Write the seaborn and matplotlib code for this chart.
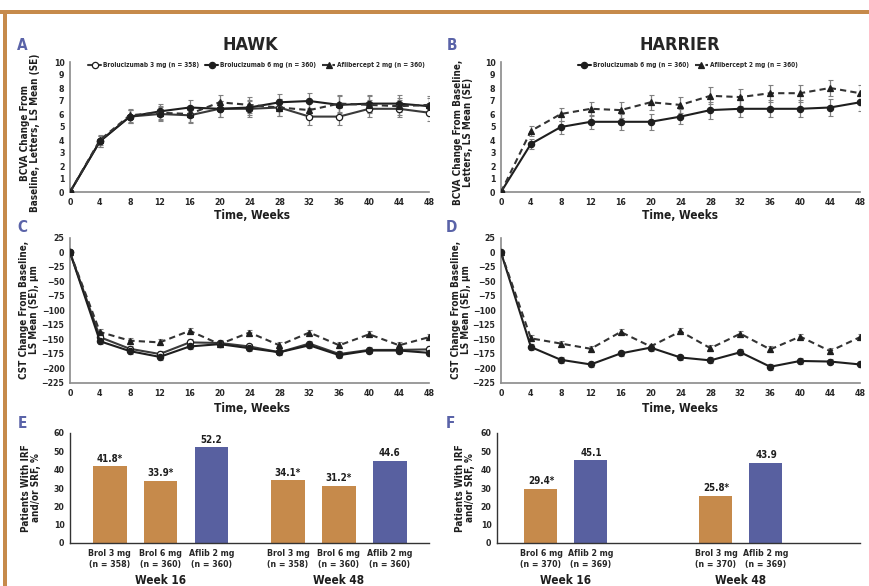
"""HAWK / HARRIER efficacy panels - BCVA, CST and fluid."""

import pandas as pd
import matplotlib
matplotlib.use('Agg')
import matplotlib.pyplot as plt
import seaborn as sns
from matplotlib.patches import Rectangle

sns.set_style("white")
# narrow bold type, closest thing to the original's condensed face
plt.rcParams['font.family'] = ['DejaVu Sans']
plt.rcParams['font.stretch'] = 'condensed'
plt.rcParams['font.weight'] = 'bold'

# ---- data -------------------------------------------------------------
weeks = [0, 4, 8, 12, 16, 20, 24, 28, 32, 36, 40, 44, 48]

# HAWK BCVA (letters)
hawk_bcva_brol3 = [0, 3.9, 5.8, 6.0, 5.9, 6.4, 6.4, 6.5, 5.8, 5.8, 6.4, 6.4, 6.1]
hawk_bcva_brol6 = [0, 3.9, 5.8, 6.2, 6.5, 6.4, 6.5, 6.9, 7.0, 6.7, 6.8, 6.8, 6.6]
hawk_bcva_aflib = [0, 4.0, 5.9, 6.1, 6.0, 6.9, 6.7, 6.5, 6.3, 6.8, 6.7, 6.6, 6.7]
# HARRIER BCVA
harrier_bcva_brol6 = [0, 3.7, 5.0, 5.4, 5.4, 5.4, 5.8, 6.3, 6.4, 6.4, 6.4, 6.5, 6.9]
harrier_bcva_aflib = [0, 4.7, 6.0, 6.4, 6.3, 6.9, 6.7, 7.4, 7.3, 7.6, 7.6, 8.0, 7.6]
bcva_se = [0, 0.4, 0.5, 0.55, 0.6, 0.6, 0.6, 0.65, 0.65, 0.65, 0.65, 0.65, 0.65]

# HAWK CST (um)
hawk_cst_brol3 = [0, -146, -166, -175, -155, -156, -162, -172, -157, -175, -168, -168, -167]
hawk_cst_brol6 = [0, -153, -170, -180, -162, -158, -165, -172, -160, -177, -169, -169, -173]
hawk_cst_aflib = [0, -137, -152, -155, -135, -158, -138, -160, -138, -160, -141, -160, -146]
# HARRIER CST
harrier_cst_brol6 = [0, -163, -185, -193, -174, -164, -181, -186, -172, -197, -187, -188, -193]
harrier_cst_aflib = [0, -148, -157, -166, -137, -162, -136, -165, -140, -167, -145, -170, -146]
cst_se = [0, 5, 5, 5, 5, 5, 5, 5, 5, 5, 5, 5, 5]

# IRF and/or SRF (%)
hawk_fluid_labels = ['Brol 3 mg\n(n = 358)', 'Brol 6 mg\n(n = 360)', 'Aflib 2 mg\n(n = 360)',
                     'Brol 3 mg\n(n = 358)', 'Brol 6 mg\n(n = 360)', 'Aflib 2 mg\n(n = 360)']
hawk_fluid_drug = ['Brol', 'Brol', 'Aflib', 'Brol', 'Brol', 'Aflib']
hawk_fluid_pct = [41.8, 33.9, 52.2, 34.1, 31.2, 44.6]
hawk_fluid_text = ['41.8*', '33.9*', '52.2', '34.1*', '31.2*', '44.6']

harrier_fluid_labels = ['Brol 6 mg\n(n = 370)', 'Aflib 2 mg\n(n = 369)',
                        'Brol 3 mg\n(n = 370)', 'Aflib 2 mg\n(n = 369)']
harrier_fluid_drug = ['Brol', 'Aflib', 'Brol', 'Aflib']
harrier_fluid_pct = [29.4, 45.1, 25.8, 43.9]
harrier_fluid_text = ['29.4*', '45.1', '25.8*', '43.9']

# ---- styling ----------------------------------------------------------
ORANGE = '#C68A4B'
BLUE = '#5860A0'
LETTER = '#5A63A8'
INK = '#1e1e1e'

W, H = 870, 586
fig = plt.figure(figsize=(W / 100, H / 100), dpi=100)


def px_axes(left, top, right, bottom):
    return fig.add_axes([left / W, 1 - bottom / H, (right - left) / W, (bottom - top) / H])


def style_line_axes(ax, ylim, yticks):
    ax.set_xlim(0, 48)
    ax.set_ylim(*ylim)
    ax.set_xticks(weeks)
    ax.set_yticks(yticks)
    for s in ['top', 'right']:
        ax.spines[s].set_visible(False)
    for s in ['left', 'bottom']:
        ax.spines[s].set_color('#8a8a8a')
        ax.spines[s].set_linewidth(1.2)
    ax.tick_params(axis='both', labelsize=6.3, length=3, width=0.8, color='#8a8a8a', pad=1)
    for lab in ax.get_xticklabels() + ax.get_yticklabels():
        lab.set_fontweight('bold')
    ax.set_xlabel('')
    ax.set_ylabel('')
    ax.patch.set_alpha(0)


def draw_series(ax, vals, se, kind, label=None):
    styles = {
        'brol3': dict(marker='o', markerfacecolor='white', linestyle='-', color='#3a3a3a'),
        'brol6': dict(marker='o', markerfacecolor=INK, linestyle='-', color=INK),
        'aflib': dict(marker='^', markerfacecolor=INK, linestyle=(0, (3, 2)), color='#333333'),
    }
    st = styles[kind]
    ax.errorbar(weeks, vals, yerr=se, fmt='none', ecolor='#808080', elinewidth=0.9,
                capsize=1.8, capthick=0.8, zorder=2)
    sns.lineplot(x=weeks, y=vals, ax=ax, color=st['color'], linestyle=st['linestyle'],
                 marker=st['marker'], markerfacecolor=st['markerfacecolor'],
                 markeredgecolor=INK, markersize=4.5, markeredgewidth=0.9,
                 linewidth=1.5, label=label, zorder=3)


legend_kw = dict(loc='upper center', bbox_to_anchor=(0.52, 1.02), frameon=False,
                 prop={'size': 4.7, 'weight': 'bold', 'stretch': 'condensed'},
                 handlelength=2.0, columnspacing=0.9, handletextpad=0.3, borderaxespad=0)

# ---- panel A: HAWK BCVA -----------------------------------------------
axA = px_axes(70, 62, 429, 192)
draw_series(axA, hawk_bcva_brol3, bcva_se, 'brol3', 'Brolucizumab 3 mg (n = 358)')
draw_series(axA, hawk_bcva_brol6, bcva_se, 'brol6', 'Brolucizumab 6 mg (n = 360)')
draw_series(axA, hawk_bcva_aflib, bcva_se, 'aflib', 'Aflibercept 2 mg (n = 360)')
style_line_axes(axA, (0, 10), range(0, 11))
axA.legend(ncol=3, **legend_kw)

# ---- panel B: HARRIER BCVA --------------------------------------------
axB = px_axes(501, 62, 860, 192)
draw_series(axB, harrier_bcva_brol6, bcva_se, 'brol6', 'Brolucizumab 6 mg (n = 360)')
draw_series(axB, harrier_bcva_aflib, bcva_se, 'aflib', 'Aflibercept 2 mg (n = 360)')
style_line_axes(axB, (0, 10), range(0, 11))
axB.legend(ncol=2, **legend_kw)

# ---- panel C: HAWK CST ------------------------------------------------
axC = px_axes(70, 238, 429, 383)
draw_series(axC, hawk_cst_brol3, cst_se, 'brol3')
draw_series(axC, hawk_cst_brol6, cst_se, 'brol6')
draw_series(axC, hawk_cst_aflib, cst_se, 'aflib')
style_line_axes(axC, (-225, 25), range(-225, 26, 25))

# ---- panel D: HARRIER CST ---------------------------------------------
axD = px_axes(501, 238, 860, 383)
draw_series(axD, harrier_cst_brol6, cst_se, 'brol6')
draw_series(axD, harrier_cst_aflib, cst_se, 'aflib')
style_line_axes(axD, (-225, 25), range(-225, 26, 25))


# ---- bar panels -------------------------------------------------------
def bar_panel(ax, positions, pct, drug, labels, texts, xlim, week_pos):
    df = pd.DataFrame({'pos': positions, 'pct': pct, 'drug': drug})
    sns.barplot(data=df, x='pos', y='pct', hue='drug', palette={'Brol': ORANGE, 'Aflib': BLUE},
                native_scale=True, dodge=False, width=0.66, legend=False, ax=ax,
                saturation=1, edgecolor='none')
    for x, y, t in zip(positions, pct, texts):
        ax.text(x, y + 1.5, t, ha='center', va='bottom', fontsize=7, fontweight='bold', color=INK)
    ax.set_xlim(*xlim)
    ax.set_ylim(0, 60)
    ax.set_yticks(range(0, 61, 10))
    ax.set_xticks(positions)
    ax.set_xticklabels(labels, fontsize=6.3, fontweight='bold', linespacing=1.35)
    ax.tick_params(axis='x', length=0, pad=4)
    ax.tick_params(axis='y', labelsize=6.3, length=3, width=0.8, pad=1)
    for lab in ax.get_yticklabels():
        lab.set_fontweight('bold')
    for s in ['top', 'right']:
        ax.spines[s].set_visible(False)
    for s in ['left', 'bottom']:
        ax.spines[s].set_color('#333333')
        ax.spines[s].set_linewidth(1.0)
    ax.set_xlabel('')
    ax.set_ylabel('')
    for xw, wk in week_pos:
        ax.text(xw, -0.34, wk, transform=ax.get_xaxis_transform(), ha='center', va='center',
                fontsize=8.5, fontweight='bold', color=INK)


axE = px_axes(70, 433, 429, 543)
bar_panel(axE, [0, 1, 2, 3.5, 4.5, 5.5], hawk_fluid_pct, hawk_fluid_drug, hawk_fluid_labels,
          hawk_fluid_text, (-0.78, 6.27), [(1, 'Week 16'), (4.5, 'Week 48')])

axF = px_axes(497, 433, 860, 543)
bar_panel(axF, [0, 1, 3.5, 4.5], harrier_fluid_pct, harrier_fluid_drug, harrier_fluid_labels,
          harrier_fluid_text, (-0.88, 6.38), [(0.5, 'Week 16'), (4.0, 'Week 48')])

# ---- titles, labels ---------------------------------------------------
fig.text(250 / W, 1 - 45 / H, 'HAWK', ha='center', va='center', fontsize=13, fontweight='bold')
fig.text(680 / W, 1 - 45 / H, 'HARRIER', ha='center', va='center', fontsize=13, fontweight='bold')

for x, y, s in [(22, 45, 'A'), (452, 45, 'B'), (22, 227, 'C'), (451, 227, 'D'),
                (22, 423, 'E'), (450, 423, 'F')]:
    fig.text(x / W, 1 - y / H, s, ha='center', va='center', fontsize=11,
             fontweight='bold', color=LETTER)

ylab_kw = dict(ha='center', va='center', rotation=90, fontsize=7.1, fontweight='bold',
               linespacing=1.0, color=INK)
fig.text(30 / W, 1 - 133 / H, 'BCVA Change From\nBaseline, Letters, LS Mean (SE)', **ylab_kw)
fig.text(463 / W, 1 - 132 / H, 'BCVA Change From Baseline,\nLetters, LS Mean (SE)', **ylab_kw)
fig.text(29 / W, 1 - 310 / H, 'CST Change From Baseline,\nLS Mean (SE), µm', **ylab_kw)
fig.text(461 / W, 1 - 310 / H, 'CST Change From Baseline,\nLS Mean (SE), µm', **ylab_kw)
fig.text(31 / W, 1 - 488 / H, 'Patients With IRF\nand/or SRF, %', **ylab_kw)
fig.text(465 / W, 1 - 488 / H, 'Patients With IRF\nand/or SRF, %', **ylab_kw)

xlab_kw = dict(ha='center', va='center', fontsize=8.5, fontweight='bold', color=INK)
fig.text(252 / W, 1 - 216 / H, 'Time, Weeks', **xlab_kw)
fig.text(680 / W, 1 - 216 / H, 'Time, Weeks', **xlab_kw)
fig.text(252 / W, 1 - 408 / H, 'Time, Weeks', **xlab_kw)
fig.text(680 / W, 1 - 408 / H, 'Time, Weeks', **xlab_kw)

# orange frame on top and left
fig.add_artist(Rectangle((0, 1 - 14 / H), 1, 4 / H, transform=fig.transFigure,
                         facecolor=ORANGE, edgecolor='none'))
fig.add_artist(Rectangle((3 / W, 0), 4 / W, 1 - 10 / H, transform=fig.transFigure,
                         facecolor=ORANGE, edgecolor='none'))

fig.savefig('out.png', dpi=100)
plt.close(fig)
